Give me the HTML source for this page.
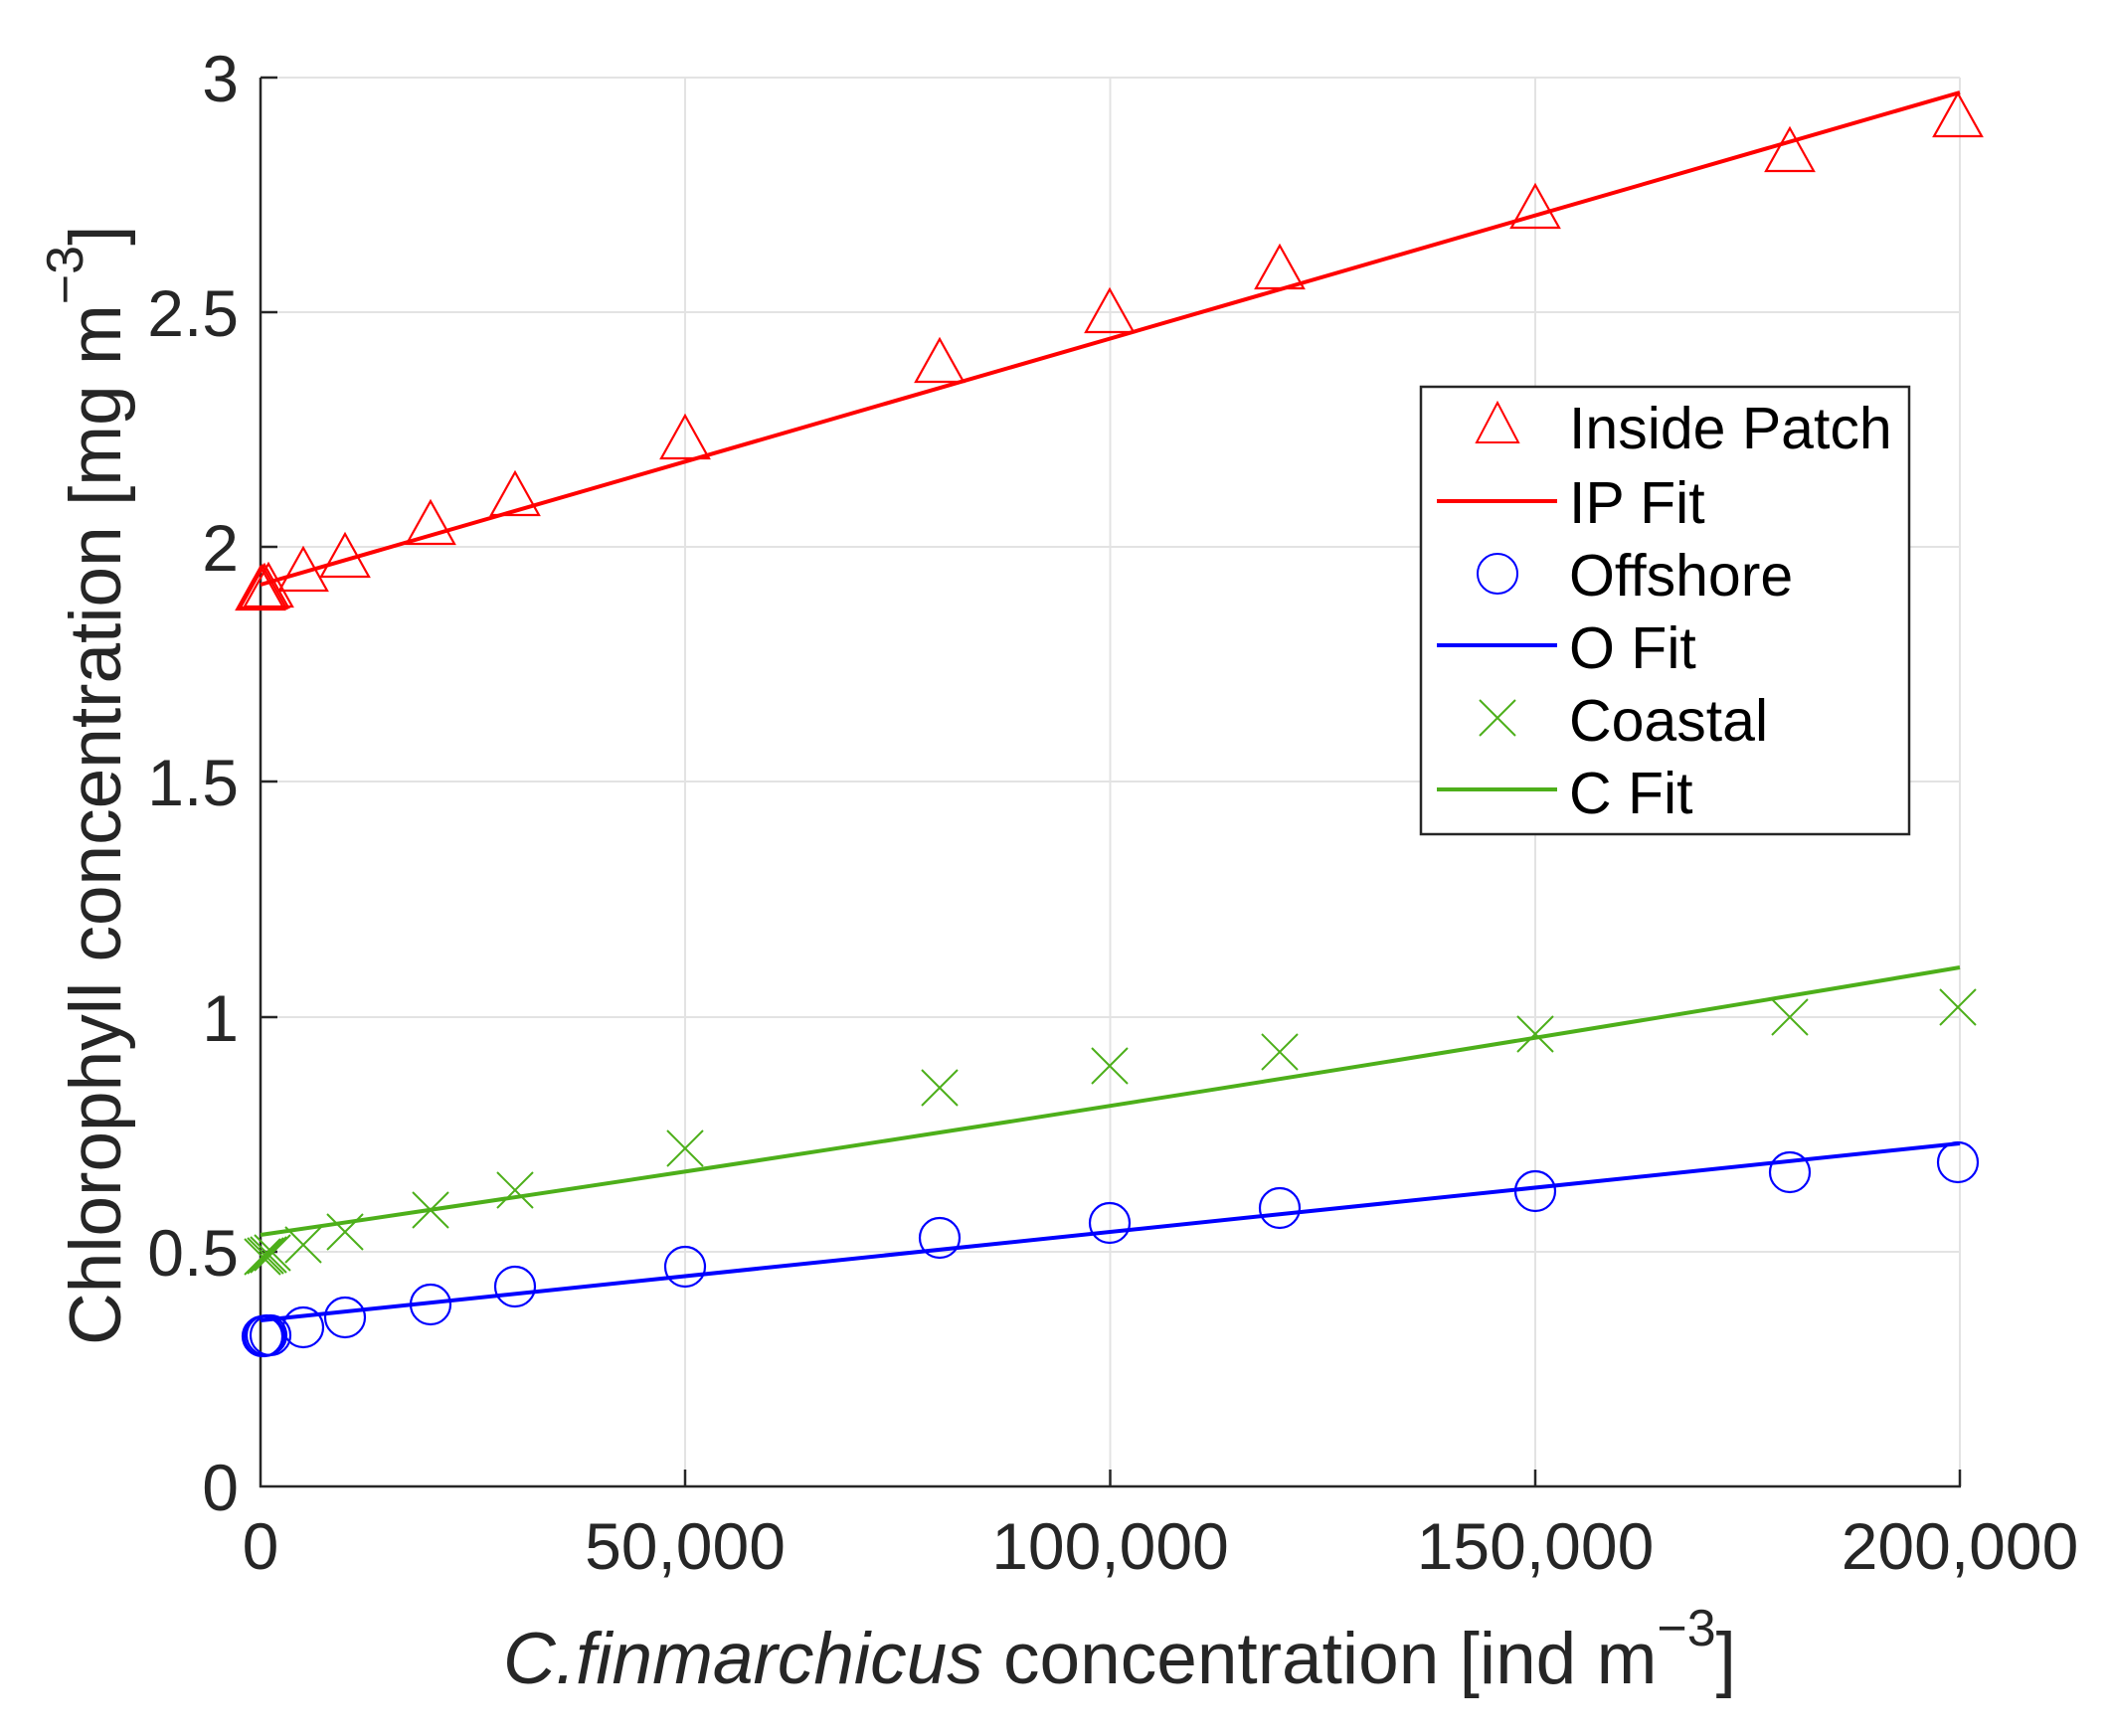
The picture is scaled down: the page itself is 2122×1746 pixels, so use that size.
<!DOCTYPE html>
<html><head><meta charset="utf-8"><style>
html,body{margin:0;padding:0;background:#fff;}
svg{display:block;}
text{font-family:"Liberation Sans",Arial,sans-serif;fill:#262626;}
</style></head><body>
<svg width="2122" height="1746" viewBox="0 0 2122 1746" xmlns="http://www.w3.org/2000/svg">
<rect width="2122" height="1746" fill="#fff"/>
<g stroke="#e3e3e3" stroke-width="2">
<line x1="689" y1="78" x2="689" y2="1495"/>
<line x1="1116.5" y1="78" x2="1116.5" y2="1495"/>
<line x1="1544" y1="78" x2="1544" y2="1495"/>
<line x1="1971" y1="78" x2="1971" y2="1495"/>
<line x1="262" y1="78" x2="1971" y2="78"/>
<line x1="262" y1="314" x2="1971" y2="314"/>
<line x1="262" y1="550" x2="1971" y2="550"/>
<line x1="262" y1="786" x2="1971" y2="786"/>
<line x1="262" y1="1023" x2="1971" y2="1023"/>
<line x1="262" y1="1259" x2="1971" y2="1259"/>
</g>
<g stroke="#262626" stroke-width="2.5" fill="none">
<line x1="262" y1="78" x2="262" y2="1496"/>
<line x1="261" y1="1495" x2="1972" y2="1495"/>
<line x1="689" y1="1495" x2="689" y2="1478"/>
<line x1="1116.5" y1="1495" x2="1116.5" y2="1478"/>
<line x1="1544" y1="1495" x2="1544" y2="1478"/>
<line x1="1971" y1="1495" x2="1971" y2="1478"/>
<line x1="262" y1="78" x2="279" y2="78"/>
<line x1="262" y1="314" x2="279" y2="314"/>
<line x1="262" y1="550" x2="279" y2="550"/>
<line x1="262" y1="786" x2="279" y2="786"/>
<line x1="262" y1="1023" x2="279" y2="1023"/>
<line x1="262" y1="1259" x2="279" y2="1259"/>
</g>
<g font-size="66" text-anchor="end">
<text x="240" y="102">3</text>
<text x="240" y="338">2.5</text>
<text x="240" y="574">2</text>
<text x="240" y="810">1.5</text>
<text x="240" y="1047">1</text>
<text x="240" y="1283">0.5</text>
<text x="240" y="1519">0</text>
</g>
<g font-size="66" text-anchor="middle">
<text x="262" y="1578">0</text>
<text x="689" y="1578">50,000</text>
<text x="1116.5" y="1578">100,000</text>
<text x="1544" y="1578">150,000</text>
<text x="1971" y="1578">200,000</text>
</g>
<text x="506" y="1693" font-size="73"><tspan font-style="italic">C.finmarchicus</tspan> concentration [ind m<tspan dy="-38" font-size="52">−3</tspan><tspan dy="38">]</tspan></text>
<text transform="translate(121,1353) rotate(-90)" font-size="73">Chlorophyll concentration [mg m<tspan dy="-38" font-size="52">−3</tspan><tspan dy="38">]</tspan></text>

<!-- fits -->
<line x1="262" y1="588" x2="1971" y2="93" stroke="#ff0000" stroke-width="4"/>
<line x1="262" y1="1328" x2="1971" y2="1150" stroke="#0000ff" stroke-width="4"/>
<path d="M262,1242 Q1116,1117 1971,973" stroke="#4daf1a" stroke-width="4" fill="none"/>

<!-- IP triangles -->
<g stroke="#ff0000" stroke-width="2.2" fill="none">
<path d="M0,-23 L24,20 L-24,20 Z" transform="translate(262,593)"/>
<path d="M0,-23 L24,20 L-24,20 Z" transform="translate(264,592)"/>
<path d="M0,-23 L24,20 L-24,20 Z" transform="translate(266,591)"/>
<path d="M0,-23 L24,20 L-24,20 Z" transform="translate(270,590)"/>
<path d="M0,-23 L24,20 L-24,20 Z" transform="translate(305,574)"/>
<path d="M0,-23 L24,20 L-24,20 Z" transform="translate(347,560)"/>
<path d="M0,-23 L24,20 L-24,20 Z" transform="translate(433,527)"/>
<path d="M0,-23 L24,20 L-24,20 Z" transform="translate(518,498)"/>
<path d="M0,-23 L24,20 L-24,20 Z" transform="translate(689,441)"/>
<path d="M0,-23 L24,20 L-24,20 Z" transform="translate(945,364)"/>
<path d="M0,-23 L24,20 L-24,20 Z" transform="translate(1116,314)"/>
<path d="M0,-23 L24,20 L-24,20 Z" transform="translate(1287,270)"/>
<path d="M0,-23 L24,20 L-24,20 Z" transform="translate(1544,209)"/>
<path d="M0,-23 L24,20 L-24,20 Z" transform="translate(1800,152)"/>
<path d="M0,-23 L24,20 L-24,20 Z" transform="translate(1969,117)"/>
</g>
<!-- O circles -->
<g stroke="#0000ff" stroke-width="2.2" fill="none">
<circle cx="264" cy="1344" r="20"/><circle cx="266" cy="1344" r="20"/><circle cx="268" cy="1343" r="20"/><circle cx="272" cy="1343" r="20"/>
<circle cx="305" cy="1335" r="20"/><circle cx="347" cy="1325" r="20"/>
<circle cx="433" cy="1312" r="20"/><circle cx="518" cy="1294" r="20"/>
<circle cx="689" cy="1274" r="20"/><circle cx="945" cy="1245" r="20"/>
<circle cx="1116" cy="1230" r="20"/><circle cx="1287" cy="1215" r="20"/>
<circle cx="1544" cy="1198" r="20"/><circle cx="1800" cy="1179" r="20"/>
<circle cx="1969" cy="1169" r="20"/>
</g>
<!-- C crosses -->
<g stroke="#4daf1a" stroke-width="2" fill="none">
<path d="M-18,-18L18,18M-18,18L18,-18" transform="translate(264,1264)"/>
<path d="M-18,-18L18,18M-18,18L18,-18" transform="translate(267,1263)"/>
<path d="M-18,-18L18,18M-18,18L18,-18" transform="translate(270,1262)"/>
<path d="M-18,-18L18,18M-18,18L18,-18" transform="translate(274,1260)"/>
<path d="M-18,-18L18,18M-18,18L18,-18" transform="translate(305,1252)"/>
<path d="M-18,-18L18,18M-18,18L18,-18" transform="translate(347,1239)"/>
<path d="M-18,-18L18,18M-18,18L18,-18" transform="translate(433,1217)"/>
<path d="M-18,-18L18,18M-18,18L18,-18" transform="translate(518,1197)"/>
<path d="M-18,-18L18,18M-18,18L18,-18" transform="translate(689,1155)"/>
<path d="M-18,-18L18,18M-18,18L18,-18" transform="translate(945,1094)"/>
<path d="M-18,-18L18,18M-18,18L18,-18" transform="translate(1116,1072)"/>
<path d="M-18,-18L18,18M-18,18L18,-18" transform="translate(1287,1058)"/>
<path d="M-18,-18L18,18M-18,18L18,-18" transform="translate(1544,1040)"/>
<path d="M-18,-18L18,18M-18,18L18,-18" transform="translate(1800,1023)"/>
<path d="M-18,-18L18,18M-18,18L18,-18" transform="translate(1969,1013)"/>
</g>

<!-- legend -->
<rect x="1429" y="389" width="491" height="450" fill="#fff" stroke="#262626" stroke-width="2.5"/>
<path d="M0,-20 L21,20 L-21,20 Z" transform="translate(1506,425)" stroke="#ff0000" stroke-width="2" fill="none"/>
<line x1="1445" y1="504" x2="1566" y2="504" stroke="#ff0000" stroke-width="4"/>
<circle cx="1506" cy="577" r="20" stroke="#0000ff" stroke-width="2" fill="none"/>
<line x1="1445" y1="649" x2="1566" y2="649" stroke="#0000ff" stroke-width="4"/>
<path d="M-18,-18L18,18M-18,18L18,-18" transform="translate(1506,722)" stroke="#4daf1a" stroke-width="2" fill="none"/>
<line x1="1445" y1="794" x2="1566" y2="794" stroke="#4daf1a" stroke-width="4"/>
<g font-size="59" fill="#000">
<text x="1578" y="451" style="fill:#000">Inside Patch</text>
<text x="1578" y="526" style="fill:#000">IP Fit</text>
<text x="1578" y="599" style="fill:#000">Offshore</text>
<text x="1578" y="672" style="fill:#000">O Fit</text>
<text x="1578" y="745" style="fill:#000">Coastal</text>
<text x="1578" y="818" style="fill:#000">C Fit</text>
</g>
</svg>
</body></html>
